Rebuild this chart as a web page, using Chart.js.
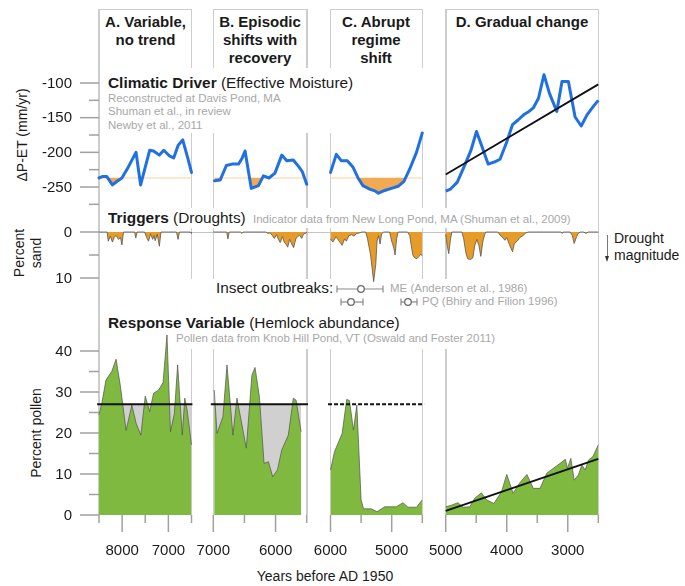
<!DOCTYPE html>
<html>
<head>
<meta charset="utf-8">
<script src="https://cdn.jsdelivr.net/npm/chart.js@4/dist/chart.umd.min.js"></script>
<style>
body { margin:0; background:#fff; }
#fig { position:relative; width:685px; height:586px; overflow:hidden; font-family:"Liberation Sans", Arial, Helvetica, sans-serif; color:#222; }
#fig div { position:absolute; white-space:nowrap; }
.vl { background:#cdcdcd; width:1.5px; z-index:1; }
.hl { background:#cdcdcd; height:1.5px; z-index:1; }
.mask { background:#fff; z-index:2; }
.hdr { font-size:15px; font-weight:bold; line-height:18.3px; text-align:center; color:#1a1a1a; z-index:2; }
.t15 { font-size:15.4px; line-height:18px; z-index:2; color:#1a1a1a; }
.t14 { font-size:14px; line-height:17px; z-index:2; color:#1a1a1a; }
.note { font-size:11.5px; line-height:13.3px; color:#a8a8a8; z-index:2; }
.rot { transform:translate(-50%,-50%) rotate(-90deg); text-align:center; }
canvas { position:absolute; z-index:3; }
</style>
</head>
<body>
<div id="fig">
  <!-- column boxes -->
  <div class="vl" style="left:98.3px;top:9px;height:506px"></div>
  <div class="vl" style="left:190.8px;top:9px;height:506px"></div>
  <div class="vl" style="left:212.6px;top:9px;height:506px"></div>
  <div class="vl" style="left:306px;top:9px;height:506px"></div>
  <div class="vl" style="left:329.8px;top:9px;height:506px"></div>
  <div class="vl" style="left:421.6px;top:9px;height:506px"></div>
  <div class="vl" style="left:445px;top:9px;height:506px"></div>
  <div class="vl" style="left:597.6px;top:9px;height:506px"></div>
  <div class="hl" style="left:98.3px;top:8.5px;width:94px"></div>
  <div class="hl" style="left:212.6px;top:8.5px;width:95px"></div>
  <div class="hl" style="left:329.8px;top:8.5px;width:93px"></div>
  <div class="hl" style="left:445px;top:8.5px;width:154px"></div>
  <div class="hl" style="left:99px;top:231.5px;width:500px;height:1px;background:#c4c4c4"></div>

  <div class="hdr" style="left:99px;top:12.6px;width:93px">A. Variable,<br>no trend</div>
  <div class="hdr" style="left:213px;top:12.6px;width:94px">B. Episodic<br>shifts with<br>recovery</div>
  <div class="hdr" style="left:330px;top:12.6px;width:92px">C. Abrupt<br>regime<br>shift</div>
  <div class="hdr" style="left:446px;top:12.6px;width:152px">D. Gradual change</div>

  <div class="mask" style="left:104px;top:68px;width:326px;height:65px"></div>
  <div class="t15" style="left:108px;top:74.3px"><b>Climatic Driver</b> (Effective Moisture)</div>
  <div class="note" style="left:108px;top:92px">Reconstructed at Davis Pond, MA<br>Shuman et al., in review<br>Newby et al., 2011</div>

  <div class="mask" style="left:104px;top:208px;width:472px;height:20px"></div>
  <div class="t15" style="left:108px;top:209px"><b>Triggers</b> (Droughts)</div>
  <div class="note" style="left:253px;top:212.8px">Indicator data from New Long Pond, MA (Shuman et al., 2009)</div>

  <div style="left:606.6px;top:235px;width:1.2px;height:22px;background:#777;z-index:2"></div>
  <div style="left:604.7px;top:256px;width:0;height:0;border-left:2.5px solid transparent;border-right:2.5px solid transparent;border-top:6px solid #333;z-index:2"></div>
  <div class="t14" style="left:614px;top:230px">Drought<br>magnitude</div>

  <div class="mask" style="left:104px;top:279px;width:480px;height:70px"></div>
  <div class="t15" style="left:216px;top:279px">Insect outbreaks:</div>
  <div class="note" style="left:390px;top:282px" id="lblME"></div>
  <div class="note" style="left:422px;top:294.5px" id="lblPQ"></div>
  <div class="t15" style="left:108px;top:314px"><b>Response Variable</b> (Hemlock abundance)</div>
  <div class="note" style="left:176px;top:331.5px">Pollen data from Knob Hill Pond, VT (Oswald and Foster 2011)</div>

  <div class="t14 rot" style="left:22px;top:135px">ΔP-ET (mm/yr)</div>
  <div class="t14 rot" style="left:28px;top:253px">Percent<br>sand</div>
  <div class="t14 rot" style="left:36px;top:433px">Percent pollen</div>
  <div class="t14" style="left:325px;top:567.7px;transform:translateX(-50%)">Years before AD 1950</div>
</div>

<script>
// ---------- data (years BP) ----------
var climateThreshold = -237;
var climateAYears = [8500, 8430, 8330, 8210, 8115, 8005, 7865, 7700, 7600, 7405, 7320, 7195, 7100, 6980, 6885, 6790, 6690, 6570, 6500];
var climateAValues = [-237, -235, -235, -247, -242, -237, -221, -200, -247, -197, -198, -204, -197, -205, -208, -190, -182, -211, -229];
var climateBYears = [6980, 6890, 6790, 6700, 6595, 6540, 6490, 6390, 6275, 6195, 6105, 6010, 5900, 5820, 5715, 5625, 5570, 5500];
var climateBValues = [-241, -240, -219, -217, -217, -209, -198, -252, -248, -234, -237, -230, -204, -212, -211, -221, -228, -246];
var climateCYears = [6000, 5905, 5825, 5725, 5635, 5550, 5470, 5360, 5265, 5215, 5115, 5005, 4895, 4800, 4705, 4595, 4500];
var climateCValues = [-229, -203, -212, -212, -221, -237, -248, -253, -256, -259, -255, -252, -249, -242, -224, -200, -172];
var climateDYears = [5000, 4920, 4810, 4700, 4590, 4495, 4405, 4305, 4205, 4110, 4000, 3905, 3810, 3710, 3635, 3565, 3480, 3390, 3300, 3180, 3095, 2990, 2880, 2780, 2685, 2575, 2500];
var climateDValues = [-256, -253, -243, -221, -198, -170, -192, -217, -214, -210, -185, -160, -153, -145, -141, -136, -122, -88, -115, -141, -98, -98, -149, -162, -146, -133, -125];
var climateDTrendYears = [5000, 2500];
var climateDTrendValues = [-232, -102];

var sandAYears = [8500, 8325, 8300, 8255, 8210, 8165, 8125, 8080, 8035, 8005, 7970, 7730, 7705, 7675, 7515, 7470, 7430, 7385, 7340, 7310, 7285, 7240, 7195, 7160, 6825, 6790, 6760, 6525, 6505, 6500];
var sandAValues = [0, 0, 2.0, 0.9, 2.2, 1.0, 0.8, 1.6, 1.2, 2.8, 0, 0, 1.3, 0, 0, 1.2, 2.0, 0.4, 1.6, 0.8, 1.9, 0.5, 3.1, 0, 0, 1.6, 0, 0, 0.3, 0];
var sandBYears = [7000, 6785, 6765, 6745, 6565, 6540, 6520, 6155, 6125, 6085, 6050, 6020, 5985, 5955, 5925, 5890, 5860, 5825, 5805, 5775, 5740, 5710, 5675, 5645, 5615, 5580, 5550, 5515, 5500];
var sandBValues = [0, 0, 1.5, 0, 0, 0.3, 0, 0, 0.3, 0.2, 0.8, 1.4, 0.6, 1.6, 2.3, 1.0, 2.2, 2.8, 3.3, 1.6, 2.6, 3.4, 1.5, 1.0, 0.7, 1.4, 0.4, 0.3, 0];
var sandCYears = [6000, 5960, 5910, 5870, 5810, 5770, 5740, 5700, 5655, 5615, 5575, 5525, 5490, 5425, 5395, 5345, 5295, 5260, 5240, 5215, 5190, 5165, 5130, 5035, 5000, 4965, 4945, 4920, 4895, 4740, 4705, 4680, 4655, 4625, 4590, 4555, 4525, 4500];
var sandCValues = [1.5, 2.2, 1.0, 1.8, 2.9, 1.5, 2.0, 0.8, 0.6, 0.9, 0.3, 0.2, 0, 0, 1.5, 5.0, 10.8, 7.0, 2.0, 0.8, 2.6, 0.4, 0, 0, 2.0, 3.5, 5.0, 1.5, 0, 0, 0.8, 3.0, 5.0, 5.6, 5.8, 5.3, 4.8, 5.2];
var sandDYears = [5000, 4975, 4950, 4925, 4900, 4735, 4705, 4670, 4640, 4595, 4555, 4525, 4490, 4455, 4425, 4390, 4360, 4340, 4145, 4110, 4080, 4030, 4000, 3955, 3905, 3875, 3830, 3785, 3735, 3685, 3650, 3110, 3090, 3075, 2960, 2925, 2895, 2855, 2830, 2795, 2745, 2700, 2665, 2500];
var sandDValues = [0.5, 3.0, 4.7, 2.0, 0, 0, 1.5, 4.5, 5.8, 6.0, 5.6, 3.0, 1.6, 3.0, 5.3, 2.0, 0.5, 0, 0, 0.7, 1.0, 1.8, 1.2, 2.8, 4.3, 2.5, 2.0, 1.2, 0.8, 0.2, 0, 0, 0.3, 0, 0, 0.8, 2.5, 1.0, 0.3, 0, 0, 0.3, 0, 0];

var pollenThreshold = 27;
var pollenAYears = [8500, 8440, 8350, 8225, 8130, 8030, 7915, 7790, 7695, 7595, 7500, 7405, 7320, 7210, 7115, 7030, 6955, 6870, 6800, 6700, 6645, 6595, 6500];
var pollenAValues = [24.4, 27.2, 32.9, 35, 38, 30.9, 20.6, 26.8, 22.3, 19.5, 29, 25.2, 29.7, 30.5, 32.3, 43.9, 20.3, 24.8, 36.6, 19.5, 28.5, 25.6, 17.1];
var pollenBYears = [6985, 6940, 6845, 6780, 6685, 6620, 6470, 6380, 6330, 6260, 6185, 6115, 6045, 5970, 5900, 5795, 5715, 5670, 5590];
var pollenBValues = [30.5, 19.9, 24, 36.6, 19.5, 28.5, 16.3, 34.1, 36, 28.9, 12.6, 13, 9.3, 11, 15.9, 19.5, 28.5, 28, 20.3];
var pollenCYears = [6000, 5935, 5810, 5735, 5690, 5625, 5570, 5500, 5460, 5335, 5240, 5115, 4925, 4815, 4735, 4595, 4500];
var pollenCValues = [11, 15.4, 19.9, 28.2, 27.9, 20.7, 26.8, 3.7, 1.5, 1.5, 0.8, 2.0, 2.0, 3.0, 1.9, 1.9, 3.7];
var pollenDYears = [5000, 4905, 4800, 4715, 4605, 4525, 4415, 4330, 4210, 4085, 4000, 3895, 3795, 3670, 3565, 3455, 3345, 3235, 3125, 3040, 3005, 2950, 2895, 2825, 2770, 2715, 2660, 2590, 2500];
var pollenDValues = [2.0, 2.4, 3.0, 1.9, 2.0, 4.1, 5.4, 3.7, 2.8, 5.7, 9.9, 5.3, 7.7, 9.9, 6.5, 6.5, 10.2, 11.4, 12.6, 13.6, 11.4, 13.8, 8.5, 9.8, 12.2, 11, 13.4, 14.2, 17.1];
var pollenDTrendYears = [5000, 2500];
var pollenDTrendValues = [1.0, 13.7];

// insect outbreak dates (row 1 = ME, row 2 = PQ)
var insectLabels = ['ME (Anderson et al., 1986)', 'PQ (Bhiry and Filion 1996)'];
var insectRow = [1, 2, 2];
var insectFrom = [5894, 5828, 4848];
var insectTo = [5142, 5469, 4587];
var insectMid = [5502, 5665, 4734];

// tick labels
var climateMajor = [-100, -150, -200, -250];
var climateMinor = [-125, -175, -225, -275];
var sandMajor = [0, 10];
var sandMinor = [5];
var pollenMajor = [0, 10, 20, 30, 40];
var pollenMinor = [5, 15, 25, 35];
var yearMajor = { A: [8000, 7000], B: [7000, 6000], C: [6000, 5000], D: [5000, 4000, 3000] };
var yearMinor = { A: [8500, 7500, 6500], B: [6500, 5500], C: [5500, 4500], D: [4500, 3500, 2500] };

// ---------- layout ----------
var FONT = '"Liberation Sans", Arial, Helvetica, sans-serif';
var BLUE = '#2170e2';
var cols = {
  A: { left: 99, right: 191.5, from: 8500, to: 6500 },
  B: { left: 213.3, right: 306.7, from: 7000, to: 5500 },
  C: { left: 330.5, right: 422.3, from: 6000, to: 4500 },
  D: { left: 445.7, right: 598.3, from: 5000, to: 2500 }
};
// each row: two reference values with their page pixel, and the band that is plotted
var rows = {
  climate: { v0: -100, p0: 83, v1: -250, p1: 187, top: 50, bottom: 208 },
  sand: { v0: 0, p0: 232, v1: 10, p1: 278, top: 226, bottom: 290 },
  insects: { v0: 1, p0: 289, v1: 2, p1: 302, top: 282, bottom: 310 },
  pollen: { v0: 0, p0: 515, v1: 40, p1: 351, top: 326, bottom: 515 }
};

document.getElementById('lblME').textContent = insectLabels[0];
document.getElementById('lblPQ').textContent = insectLabels[1];

function pts(xs, ys) {
  return xs.map(function (x, i) { return { x: x, y: ys[i] }; });
}

// tick marks and labels drawn from the chart's own scales
var tickMarks = {
  id: 'tickMarks',
  afterDraw: function (chart, args, o) {
    if (!o || (!o.ymajor && !o.xmajor)) return;
    var ctx = chart.ctx, a = chart.chartArea;
    ctx.save();
    ctx.strokeStyle = '#a0a0a0';
    ctx.lineWidth = 1.5;
    ctx.fillStyle = '#1a1a1a';
    ctx.font = '15px ' + FONT;
    function seg(x0, y0, x1, y1) { ctx.beginPath(); ctx.moveTo(x0, y0); ctx.lineTo(x1, y1); ctx.stroke(); }
    if (o.ymajor) {
      var sy = chart.scales.y;
      ctx.textAlign = 'right';
      ctx.textBaseline = 'middle';
      o.ymajor.forEach(function (v) {
        var p = sy.getPixelForValue(v);
        seg(a.left - 19, p, a.left, p);
        ctx.fillText(String(v), a.left - 27, p + 0.5);
      });
      o.yminor.forEach(function (v) {
        var p = sy.getPixelForValue(v);
        seg(a.left - 10, p, a.left, p);
      });
    }
    if (o.xmajor) {
      var sx = chart.scales.x;
      ctx.textAlign = 'center';
      ctx.textBaseline = 'middle';
      o.xmajor.forEach(function (v) {
        var p = sx.getPixelForValue(v);
        seg(p, a.bottom, p, a.bottom + 17);
        ctx.fillText(String(v), p, a.bottom + 36);
      });
      o.xminor.forEach(function (v) {
        var p = sx.getPixelForValue(v);
        seg(p, a.bottom, p, a.bottom + 8);
      });
    }
    ctx.restore();
  }
};

function cell(col, row, datasets, ticks, padL, padR, padB) {
  var c = cols[col], r = rows[row];
  var pad = 10;
  padL = padL || pad;
  padR = padR || pad;
  padB = padB || pad;
  var cx = Math.floor(c.left) - padL;
  var cy = Math.floor(r.top) - pad;
  var w = Math.ceil(c.right) + padR - cx;
  var h = Math.ceil(r.bottom) + padB - cy;
  var cv = document.createElement('canvas');
  cv.width = w; cv.height = h;
  cv.style.left = cx + 'px'; cv.style.top = cy + 'px';
  cv.style.width = w + 'px'; cv.style.height = h + 'px';
  document.getElementById('fig').appendChild(cv);
  var k = (r.v1 - r.v0) / (r.p1 - r.p0);
  var vTop = r.v0 + (r.top - r.p0) * k, vBot = r.v0 + (r.bottom - r.p0) * k;
  datasets.forEach(function (d) { d.clip = false; if (d.pointRadius === undefined) d.pointRadius = 0; });
  return new Chart(cv, {
    type: 'line',
    data: { datasets: datasets },
    options: {
      responsive: false, animation: false, events: [],
      layout: { padding: { left: c.left - cx, right: cx + w - c.right, top: r.top - cy, bottom: cy + h - r.bottom } },
      plugins: { legend: { display: false }, tooltip: { enabled: false }, tickMarks: ticks || {} },
      scales: {
        x: { type: 'linear', display: false, reverse: true, min: c.to, max: c.from },
        y: { type: 'linear', display: false, reverse: vTop < vBot, min: Math.min(vTop, vBot), max: Math.max(vTop, vBot) }
      },
      elements: { line: { tension: 0 } }
    },
    plugins: [tickMarks]
  });
}

// ---------- climatic driver ----------
function climateSets(col, xs, ys) {
  var c = cols[col];
  return [
    { data: pts(xs, ys), borderColor: BLUE, borderWidth: 3, borderJoinStyle: 'round', borderCapStyle: 'round',
      fill: { target: { value: climateThreshold }, above: 'transparent', below: '#f2aa52' } },
    { data: pts([c.from, c.to], [climateThreshold, climateThreshold]), borderColor: '#fde0ba', borderWidth: 1.3, fill: false }
  ];
}
cell('A', 'climate', climateSets('A', climateAYears, climateAValues), { ymajor: climateMajor, yminor: climateMinor }, 99);
cell('B', 'climate', climateSets('B', climateBYears, climateBValues));
cell('C', 'climate', climateSets('C', climateCYears, climateCValues));
cell('D', 'climate', [
  { data: pts(climateDTrendYears, climateDTrendValues), borderColor: '#111', borderWidth: 1.8, fill: false },
  { data: pts(climateDYears, climateDValues), borderColor: BLUE, borderWidth: 3, borderJoinStyle: 'round', fill: false }
]);

// ---------- triggers (percent sand, drawn downward) ----------
function sandSet(xs, ys) {
  return [{ data: pts(xs, ys), borderColor: '#555', borderWidth: 0.8, backgroundColor: '#e89c28', fill: 'origin' }];
}
cell('A', 'sand', sandSet(sandAYears, sandAValues), { ymajor: sandMajor, yminor: sandMinor }, 99);
cell('B', 'sand', sandSet(sandBYears, sandBValues));
cell('C', 'sand', sandSet(sandCYears, sandCValues));
cell('D', 'sand', sandSet(sandDYears, sandDValues));

// ---------- insect outbreaks ----------
var insectSets = [];
insectMid.forEach(function (m, i) {
  insectSets.push({ data: [{ x: m, y: insectRow[i] }], showLine: false, pointStyle: 'circle', pointRadius: 3.3,
    pointBackgroundColor: '#fff', pointBorderColor: '#6a6a6a', pointBorderWidth: 1.3 });
});
insectFrom.forEach(function (f, i) {
  insectSets.push({ data: [{ x: f, y: insectRow[i] }, { x: insectTo[i], y: insectRow[i] }], borderColor: '#8a8a8a',
    borderWidth: 1.2, fill: false, pointStyle: 'line', rotation: 90, pointRadius: 3.5,
    pointBorderColor: '#8a8a8a', pointBorderWidth: 1.2 });
});
cell('C', 'insects', insectSets);

// ---------- response variable (percent pollen) ----------
var GREEN = '#80b93f';
function greenSet(xs, ys) {
  return { data: pts(xs, ys), borderColor: '#505050', borderWidth: 0.7, backgroundColor: GREEN, fill: 'origin' };
}
function pollenTicks(col) { return { xmajor: yearMajor[col], xminor: yearMinor[col] }; }
function thresholdSets(col, xs, ys) {
  var c = cols[col];
  return [
    { data: pts([c.from + 40, c.to - 20], [pollenThreshold, pollenThreshold]), borderColor: '#111', borderWidth: 2, fill: false },
    greenSet(xs, ys),
    { data: pts([xs[0], xs[xs.length - 1]], [pollenThreshold, pollenThreshold]), borderWidth: 0, backgroundColor: '#d0d0d0', fill: 'origin' }
  ];
}
var tA = pollenTicks('A');
tA.ymajor = pollenMajor; tA.yminor = pollenMinor;
cell('A', 'pollen', thresholdSets('A', pollenAYears, pollenAValues), tA, 99, 28, 52);
cell('B', 'pollen', thresholdSets('B', pollenBYears, pollenBValues), pollenTicks('B'), 28, 28, 52);
cell('C', 'pollen', [
  { data: pts([cols.C.from + 40, cols.C.to - 30], [pollenThreshold, pollenThreshold]), borderColor: '#111', borderWidth: 2, borderDash: [4, 2], fill: false },
  greenSet(pollenCYears, pollenCValues)
], pollenTicks('C'), 28, 28, 52);
cell('D', 'pollen', [
  { data: pts(pollenDTrendYears, pollenDTrendValues), borderColor: '#111', borderWidth: 2, fill: false },
  greenSet(pollenDYears, pollenDValues)
], pollenTicks('D'), 28, 28, 52);
</script>
</body>
</html>
